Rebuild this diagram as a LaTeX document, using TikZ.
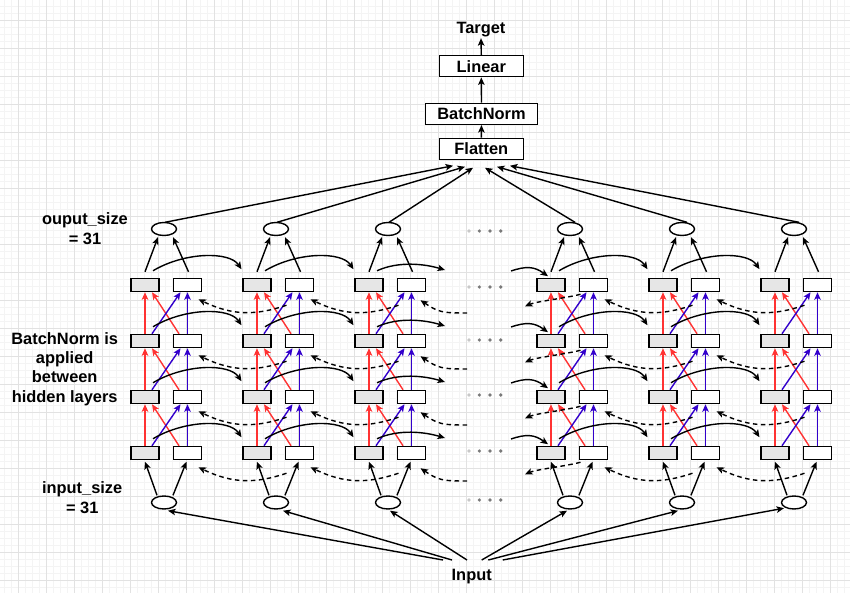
\documentclass[tikz,border=0pt]{standalone}
\usepackage{fontspec}
\setmainfont{Liberation Sans}
\usetikzlibrary{calc,arrows.meta,shapes.geometric}
\definecolor{myred}{HTML}{FF3333}
\definecolor{myblue}{HTML}{3300CC}
\definecolor{boxgray}{HTML}{E6E6E6}
\definecolor{gridmaj}{HTML}{E2E2E2}
\definecolor{gridmin}{HTML}{F4F4F4}
\definecolor{dotgray}{HTML}{7A7A7A}
\definecolor{dotlight}{HTML}{C8C8C8}
\begin{document}
\begin{tikzpicture}[x=1pt,y=-1pt,
  lbl/.style={font=\fontsize{16.4}{19.4}\selectfont\bfseries, align=center, inner sep=0pt},
  gbox/.style={draw=black, fill=boxgray, line width=1.5pt, minimum width=28pt, minimum height=13pt, inner sep=0pt},
  wbox/.style={gbox, fill=white},
  oval/.style={ellipse, draw=black, fill=white, line width=1.4pt, minimum width=25pt, minimum height=13pt, inner sep=0pt},
  topbox/.style={draw=black, fill=white, line width=1.5pt, minimum height=21pt, inner sep=0pt, font=\fontsize{16.4}{19}\selectfont\bfseries},
  arr/.style={line width=1.4pt, -{Stealth[length=7.5pt,width=6.5pt,inset=1.8pt]}},
  redarr/.style={arr, draw=myred},
  bluearr/.style={arr, draw=myblue},
  dasharr/.style={arr, dash pattern=on 4.5pt off 3.5pt},
  minline/.style={draw=gridmin, line width=0.6pt},
  majline/.style={draw=gridmaj, line width=0.9pt},
]
\useasboundingbox (0,0) rectangle (850,593);
\fill[white] (0,0) rectangle (850,593);
% background grid
\foreach \k in {0,...,121} \draw[minline] (4.3+7*\k,0) -- (4.3+7*\k,593);
\foreach \k in {0,...,84} \draw[minline] (0,6.3+7*\k) -- (850,6.3+7*\k);
\foreach \k in {0,...,30} \draw[majline] (18.3+28*\k,0) -- (18.3+28*\k,593);
\foreach \k in {0,...,20} \draw[majline] (0,20.3+28*\k) -- (850,20.3+28*\k);

% top chain
\node[lbl, anchor=base] (tgt) at (481,34) {Target};
\node[topbox, minimum width=84pt] (lin) at (481.3,66.2) {Linear};
\node[topbox, minimum width=111.6pt] (bn) at (481.5,113.8) {BatchNorm};
\node[topbox, minimum width=84pt] (flat) at (481.3,148.8) {Flatten};
\node[lbl, anchor=base] (inp) at (471.7,580.7) {Input};

% side labels (base = baseline of last line)
\node[lbl, anchor=base] (lab1) at (85,244.3) {ouput\_size\\= 31};
\node[lbl, anchor=base] (lab2) at (64.7,402.3) {BatchNorm is\\applied\\between\\hidden layers};
\node[lbl, anchor=base] (lab3) at (82.2,513.3) {input\_size\\= 31};

% groups
\foreach \i/\gx in {1/145,2/257,3/369,4/551,5/663,6/775} {
  \foreach \r/\c in {1/285,2/341,3/397,4/453} {
    \node[gbox] (G\i-\r) at (\gx,\c) {};
    \node[wbox] (W\i-\r) at (\gx+42.5,\c) {};
  }
  \node[oval] (T\i) at (\gx+19,229) {};
  \node[oval] (B\i) at (\gx+19,502.5) {};
}

% dots in the gap
\foreach \y in {231,287,340,395,451,500} {
  \fill[dotlight] (469,\y) circle (1.8pt);
  \fill[dotgray] (479.3,\y) circle (1.8pt);
  \fill[dotgray] (490,\y) circle (1.8pt);
  \fill[dotgray] (500.7,\y) circle (1.8pt);
}

% free ends near the gap
\foreach \r/\c in {1/285,2/341,3/397,4/453} {
  \coordinate (D3o-\r) at (445,\c-15);
  \coordinate (D4i-\r) at (511,\c-14);
  \coordinate (D3d-\r) at (467,\c+28);
  \coordinate (D4d-\r) at (525,\c+21.3);
}

% top chain arrows
\draw[arr] (flat.north) -- (bn.south);
\draw[arr] (bn.north) -- (lin.south);
\draw[arr] (lin.north) -- ($(tgt.south)+(0,0.5)$);

% ellipses to Flatten
\foreach \i/\sx/\dx/\dy in {1/1/-28.3/5.7, 2/1/-16.3/6.7, 3/1/-8.3/7.7, 4/5/3.7/7.7, 5/5/15.7/6.7, 6/5/28.7/5.7}
  \draw[arr] ($(T\i.north)+(\sx,0.5)$) -- ($(flat.south)+(\dx,\dy)$);

% Input to ellipses
\foreach \i/\dx/\ex/\ey in {1/-28.7/4/1, 2/-19.7/7/1, 3/-4.7/2/1, 4/10/-3/1, 5/16.6/-4/1, 6/31/-10/-1.5}
  \draw[arr] ($(inp.base)+(\dx,-20.7)$) -- ($(B\i.south)+(\ex,\ey)$);

\foreach \i in {1,...,6} {
  % boxes to top ellipse
  \draw[arr] ($(G\i-1.north)+(0,-6)$) -- ($(T\i.south)+(-6,1)$);
  \draw[arr] ($(W\i-1.north)+(1,-6)$) -- ($(T\i.south)+(9,1)$);
  % bottom ellipse to boxes
  \draw[arr] ($(B\i.north)+(-7,0)$) -- ($(G\i-4.south)+(0,1.5)$);
  \draw[arr] ($(B\i.north)+(9,0)$) -- ($(W\i-4.south)+(-1,1.5)$);
  % between layers
  \foreach \r/\s in {1/2,2/3,3/4} {
    \draw[redarr] (G\i-\s.north) -- (G\i-\r.south);
    \draw[redarr] ($(W\i-\s.north)+(-8.5,0)$) -- ($(G\i-\r.south)+(7,0)$);
    \draw[bluearr] ($(G\i-\s.north)+(7,0)$) -- ($(W\i-\r.south)+(-7,0)$);
    \draw[bluearr] (W\i-\s.north) -- (W\i-\r.south);
  }
}

% curved connections between groups
\foreach \r in {1,2,3,4} {
  \foreach \i/\j in {1/2,2/3,4/5,5/6} {
    \draw[arr] ($(G\i-\r.north)+(8,-7)$) .. controls +(32,-19) and +(-12,-18) .. ($(G\j-\r.north)+(-15.5,-8.5)$);
    \draw[dasharr] ($(W\j-\r.south)+(-13,13)$) .. controls +(-30,10) and +(35,17) .. ($(W\i-\r.south)+(11,7)$);
  }
  \draw[arr] ($(G3-\r.north)+(8,-7)$) .. controls +(22,-10) and +(-20,-6) .. (D3o-\r);
  \draw[arr] (D4i-\r) .. controls +(15,-5) and +(-14,-10) .. ($(G4-\r.north)+(-3,-1.5)$);
  \draw[dasharr] (D3d-\r) .. controls +(-25,0) and +(18,12) .. ($(W3-\r.south)+(9,8)$);
  \draw[dasharr] ($(W4-\r.south)+(-13,2)$) .. controls +(-15,4) and +(12,-5) .. (D4d-\r);
}
\end{tikzpicture}
\end{document}
